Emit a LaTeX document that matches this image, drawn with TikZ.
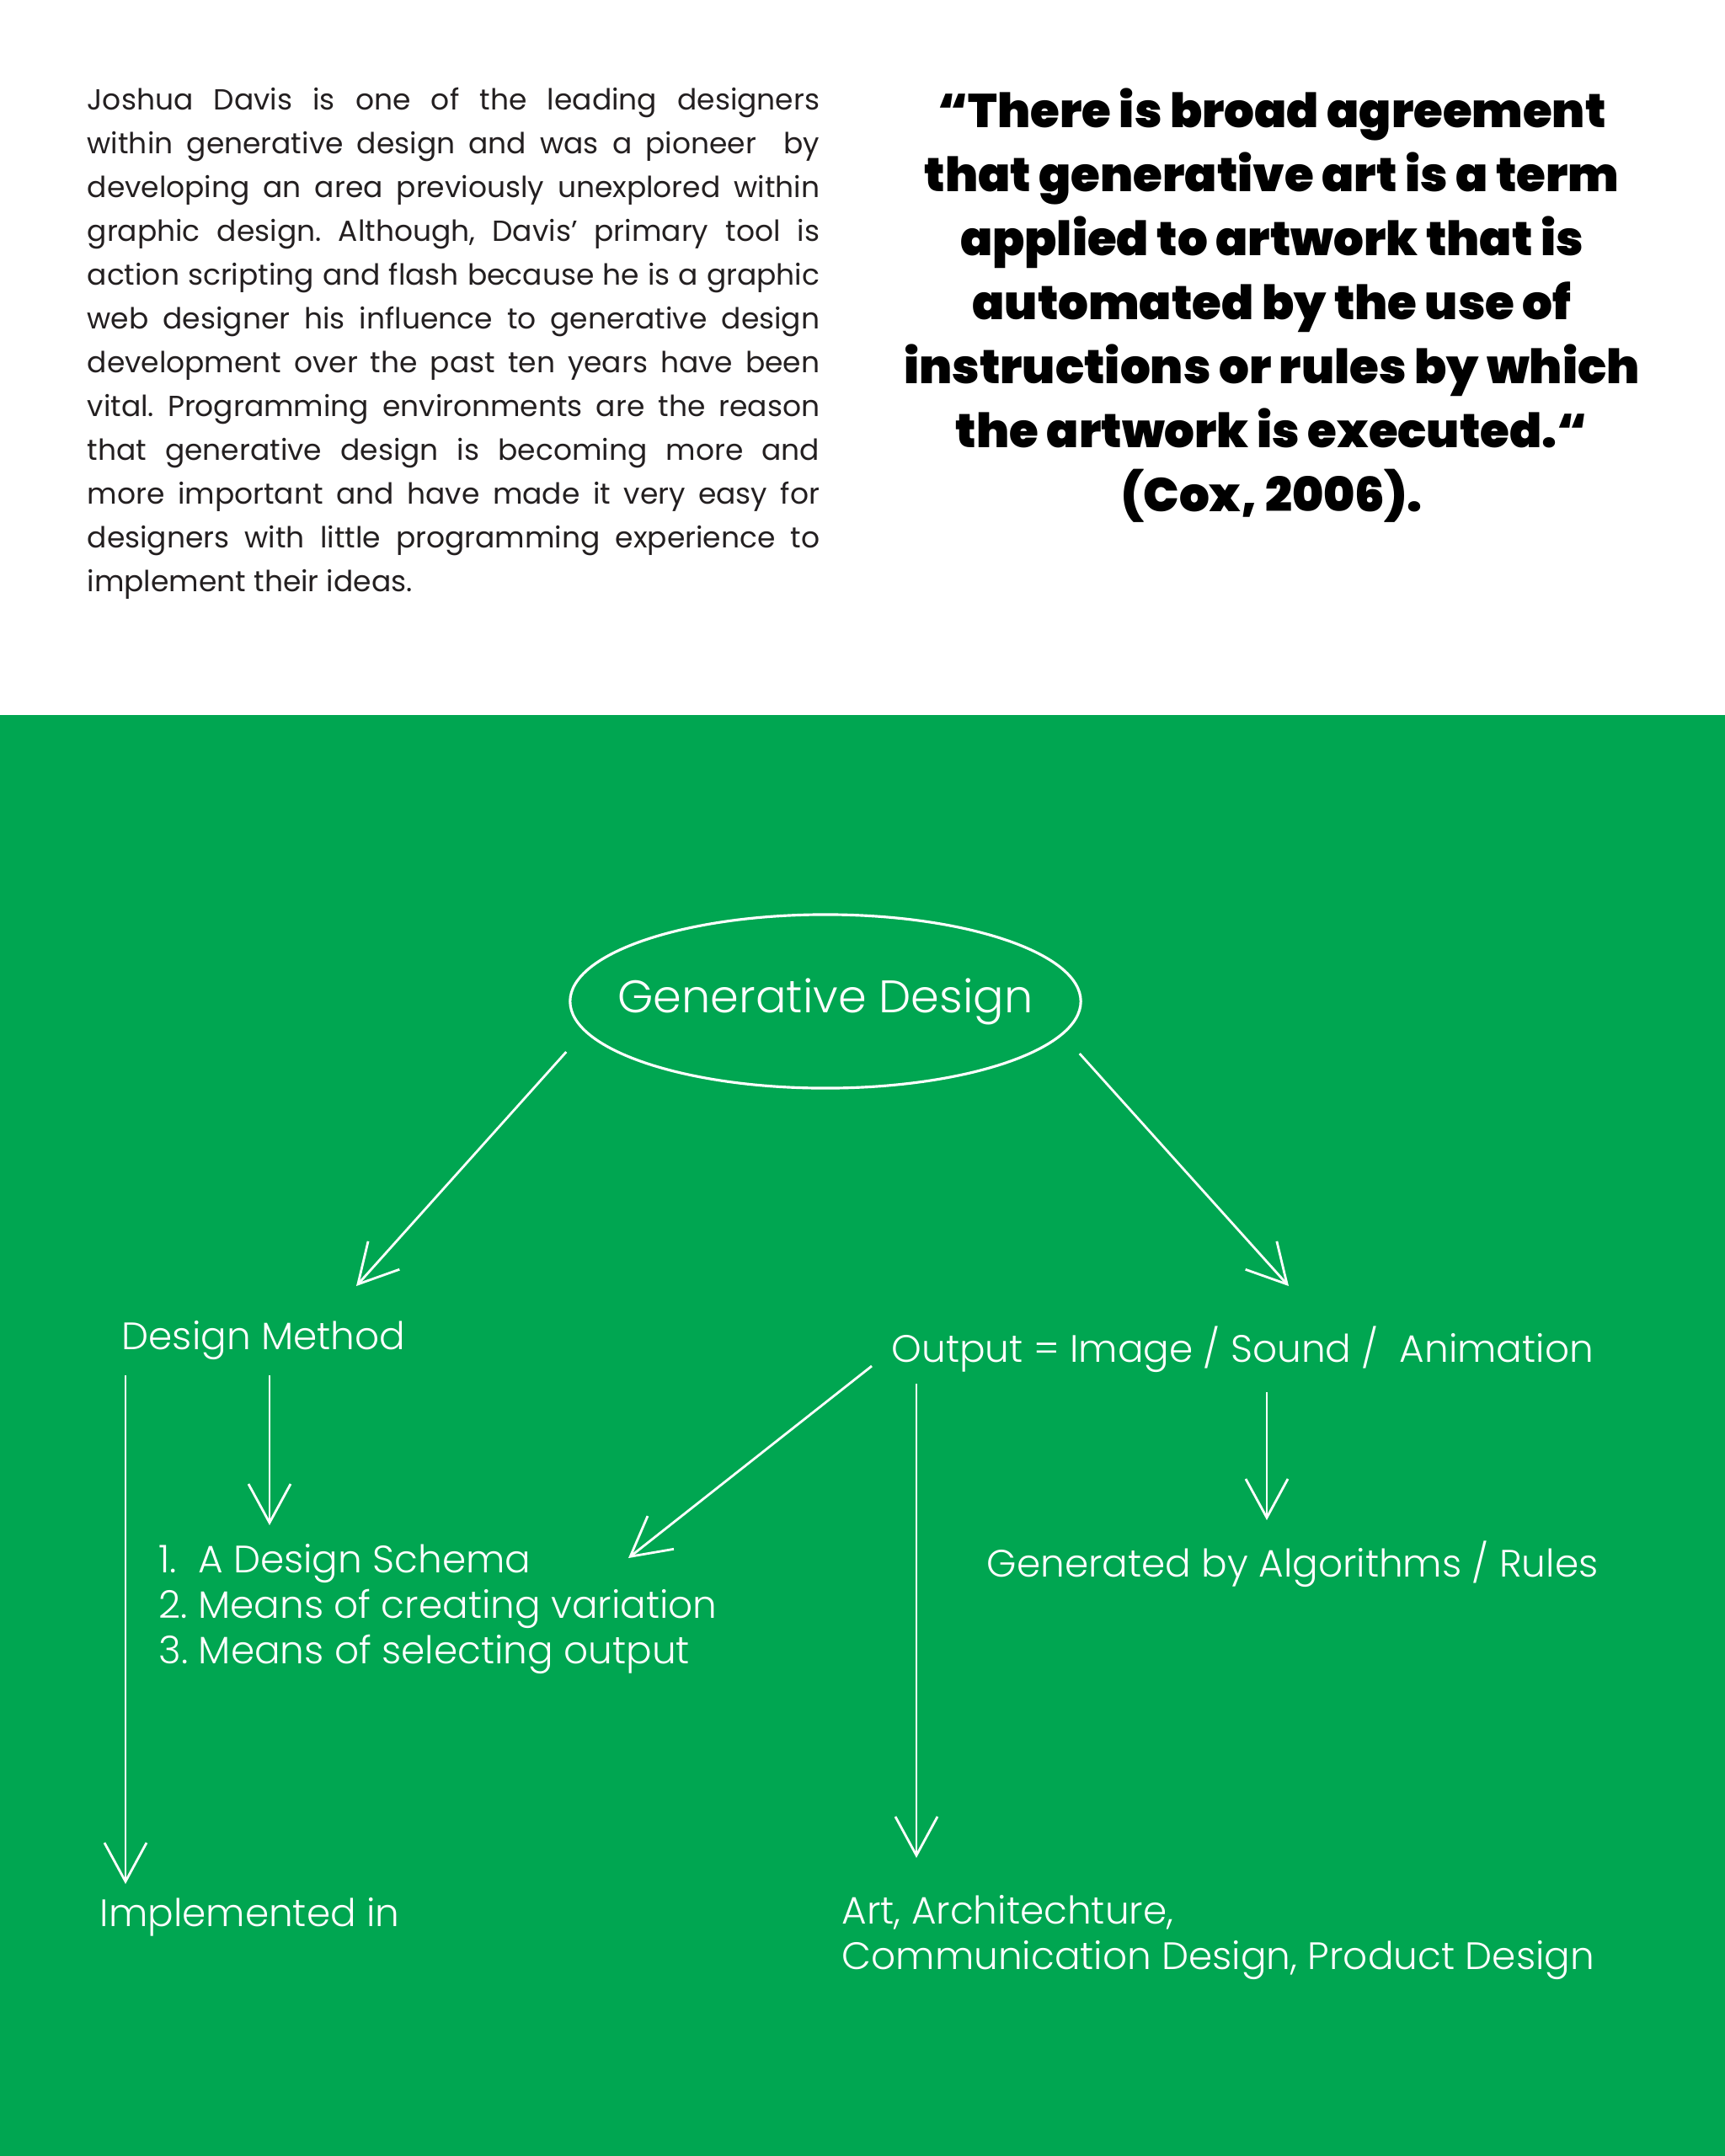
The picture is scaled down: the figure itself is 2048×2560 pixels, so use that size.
\documentclass[tikz,border=0pt]{standalone}
\usepackage{fontspec}
\setmainfont{Poppins}
\newfontfamily\heavyfont{Poppins Black}
\newfontfamily\lightfont{Poppins Light}
\frenchspacing
\usetikzlibrary{arrows.meta, positioning, shapes.geometric, calc}
\definecolor{gdgreen}{HTML}{00A651}
\definecolor{gdink}{HTML}{231F20}

\begin{document}
\begin{tikzpicture}[x=0.01cm, y=-0.01cm,
  bubble/.style={ellipse, draw=white, line width=0.9pt, minimum width=6.06cm,
                 minimum height=2.06cm, inner xsep=-0.4cm, inner ysep=0pt, text=white,
                 font=\fontsize{15.4pt}{18pt}\selectfont\lightfont},
  txt/.style={text=white, inner sep=0pt, align=left,
              font=\fontsize{12.9pt}{15.3pt}\selectfont\lightfont},
  flow/.style={-{Straight Barb[length=4.6mm, width=5mm]}, line width=0.8pt, white},
  para/.style={text=gdink, inner sep=0pt, text width=8.69cm, align=justify,
               font=\fontsize{9.8pt}{14.8pt}\selectfont},
  citation/.style={text=black, inner sep=0pt, align=center,
                   font=\fontsize{16pt}{21.6pt}\selectfont\heavyfont}
]
\useasboundingbox (0,0) rectangle (2048,2560);
\fill[white] (0,0) rectangle (2048,849);
\fill[gdgreen] (0,849) rectangle (2048,2560);

% Intro text and quote
\node[para, anchor=north west] (intro) at (103,103) {Joshua Davis is one of the leading designers\linebreak
within generative design and was a pioneer\ \ by\linebreak
developing an area previously unexplored within\linebreak
graphic design. Although, Davis' primary tool is\linebreak
action scripting and flash because he is a graphic\linebreak
web designer his influence to generative design\linebreak
development over the past ten years have been\linebreak
vital. Programming environments are the reason\linebreak
that generative design is becoming more and\linebreak
more important and have made it very easy for\linebreak
designers with little programming experience to\linebreak
implement their ideas.};

\node[citation, anchor=north] (cite) at (1510,104) {“There is broad agreement\\
that generative art is a term\\
applied to artwork that is\\
automated by the use of\\
instructions or rules by which\\
the artwork is executed.“\\
(Cox, 2006).};

% Diagram nodes
\node[bubble] (gd) at (980,1189) {Generative Design};
\node[txt, anchor=west] (method) at (144,1592) {Design Method};
\node[txt, anchor=west] (output) at (1058,1602) {Output = Image / Sound /\ \ Animation};
\node[txt, anchor=north west] (schema) at (188,1833) {1.\ \ A Design Schema\\
2. Means of creating variation\\
3. Means of selecting output};
\node[txt, anchor=west] (rules) at (1171,1857) {Generated by Algorithms / Rules};
\node[txt, anchor=west] (impl) at (118,2276) {Implemented in};
\node[txt, anchor=north west] (fields) at (999,2250) {Art, Architechture,\\
Communication Design, Product Design};

% Connectors
\draw[flow] ($(gd.west)+(-3,60)$) -- ($(method.west)+(279,-65)$);
\draw[flow] ($(gd.east)+(-3,62)$) -- ($(output.west)+(472,-75)$);

\draw[flow] ($(method.west)+(176,41)$) coordinate (m1) -- ([yshift=0.22cm]m1 |- schema.north);
\draw[flow] ($(method.west)+(5,41)$) coordinate (m2) -- ([yshift=0.39cm]m2 |- impl.west);

\draw[flow] ($(output.west)+(-23,20)$) -- ($(schema.north west)+(558,17)$);
\draw[flow] ($(output.west)+(30,41)$) coordinate (o1) -- ([yshift=0.44cm]o1 |- fields.north);
\draw[flow] ($(output.west)+(446,51)$) coordinate (o2) -- ([yshift=0.52cm]o2 |- rules.west);

\end{tikzpicture}
\end{document}
